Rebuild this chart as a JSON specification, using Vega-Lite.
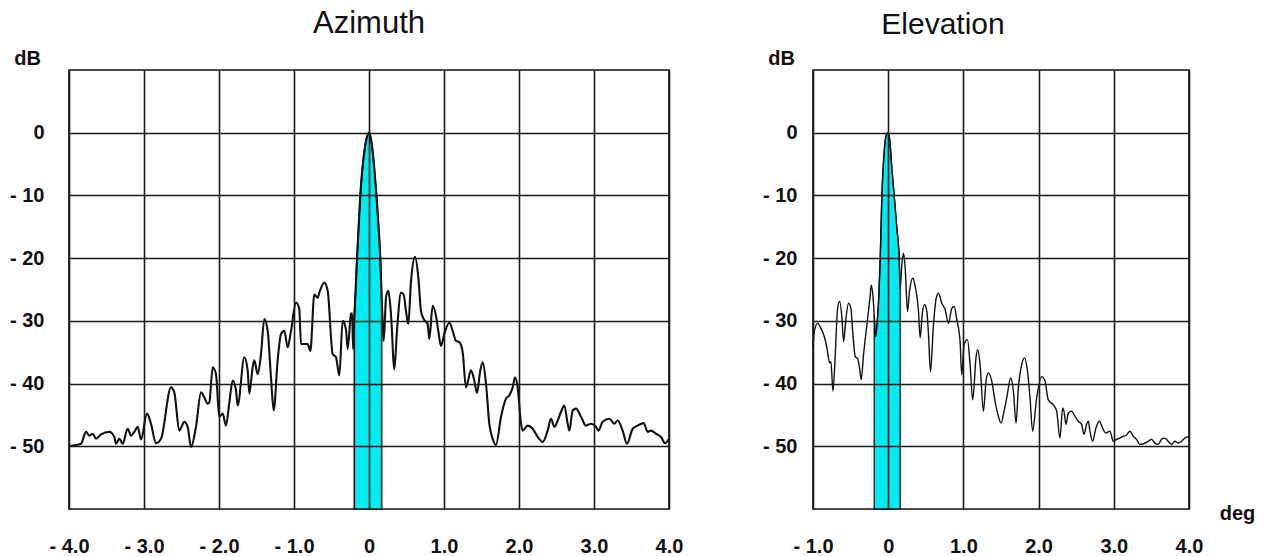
{
  "$schema": "https://vega.github.io/schema/vega-lite/v6.json",
  "background": "white",
  "padding": {"left": 8, "top": 7, "right": 8, "bottom": 4},
  "bounds": "flush",
  "spacing": 144,
  "config": {
    "font": "Liberation Sans",
    "view": {"stroke": "#111111", "strokeWidth": 1.6},
    "axis": {
      "grid": true,
      "gridColor": "#1a1a1a",
      "gridWidth": 1.6,
      "gridOpacity": 1,
      "domain": false,
      "ticks": false,
      "labelFont": "Liberation Sans",
      "labelFontSize": 20,
      "labelFontWeight": "bold",
      "labelColor": "#111111",
      "labelFlush": false,
      "labelOverlap": false
    },
    "title": {"font": "Liberation Sans", "fontSize": 30, "fontWeight": "normal", "color": "#111111"}
  },
  "datasets": {
    "az": [
      {"deg": -4.0, "db": -50.0}, {"deg": -3.907, "db": -49.8}, {"deg": -3.84, "db": -49.6}, {"deg": -3.773, "db": -47.7},
      {"deg": -3.729, "db": -48.3}, {"deg": -3.684, "db": -48.0}, {"deg": -3.64, "db": -48.8}, {"deg": -3.573, "db": -48.1},
      {"deg": -3.462, "db": -47.7}, {"deg": -3.396, "db": -48.5}, {"deg": -3.373, "db": -49.6}, {"deg": -3.329, "db": -48.8},
      {"deg": -3.284, "db": -49.6}, {"deg": -3.218, "db": -47.2}, {"deg": -3.173, "db": -48.3}, {"deg": -3.129, "db": -47.7},
      {"deg": -3.084, "db": -46.9}, {"deg": -3.04, "db": -48.9}, {"deg": -2.96, "db": -44.8}, {"deg": -2.907, "db": -46.4},
      {"deg": -2.84, "db": -49.5}, {"deg": -2.773, "db": -48.8}, {"deg": -2.64, "db": -40.6}, {"deg": -2.596, "db": -41.4},
      {"deg": -2.529, "db": -47.5}, {"deg": -2.462, "db": -46.1}, {"deg": -2.418, "db": -46.9}, {"deg": -2.373, "db": -50.1},
      {"deg": -2.307, "db": -46.9}, {"deg": -2.24, "db": -41.4}, {"deg": -2.196, "db": -42.2}, {"deg": -2.151, "db": -43.2},
      {"deg": -2.129, "db": -43.0}, {"deg": -2.084, "db": -37.4}, {"deg": -2.04, "db": -38.5}, {"deg": -1.996, "db": -45.3},
      {"deg": -1.951, "db": -44.8}, {"deg": -1.907, "db": -46.7}, {"deg": -1.862, "db": -43.0}, {"deg": -1.818, "db": -39.5},
      {"deg": -1.773, "db": -41.1}, {"deg": -1.751, "db": -43.5}, {"deg": -1.662, "db": -35.8}, {"deg": -1.618, "db": -37.9},
      {"deg": -1.596, "db": -41.6}, {"deg": -1.551, "db": -37.4}, {"deg": -1.529, "db": -36.3}, {"deg": -1.484, "db": -38.5},
      {"deg": -1.44, "db": -35.3}, {"deg": -1.396, "db": -29.7}, {"deg": -1.351, "db": -31.6}, {"deg": -1.307, "db": -39.0},
      {"deg": -1.271, "db": -44.3}, {"deg": -1.218, "db": -36.3}, {"deg": -1.173, "db": -32.1}, {"deg": -1.129, "db": -31.6},
      {"deg": -1.084, "db": -34.2}, {"deg": -1.04, "db": -31.6}, {"deg": -0.973, "db": -27.1}, {"deg": -0.929, "db": -28.1},
      {"deg": -0.907, "db": -33.7}, {"deg": -0.818, "db": -33.7}, {"deg": -0.782, "db": -34.8}, {"deg": -0.729, "db": -25.8},
      {"deg": -0.684, "db": -26.3}, {"deg": -0.662, "db": -25.5}, {"deg": -0.596, "db": -23.9}, {"deg": -0.551, "db": -25.2},
      {"deg": -0.484, "db": -35.3}, {"deg": -0.44, "db": -35.8}, {"deg": -0.396, "db": -38.7}, {"deg": -0.351, "db": -30.0},
      {"deg": -0.307, "db": -31.4}, {"deg": -0.284, "db": -34.5}, {"deg": -0.24, "db": -28.9}, {"deg": -0.225, "db": -28.8},
      {"deg": -0.212, "db": -34.5}, {"deg": -0.196, "db": -29.5}, {"deg": -0.178, "db": -25.0}, {"deg": -0.16, "db": -20.0},
      {"deg": -0.138, "db": -15.0}, {"deg": -0.116, "db": -10.0}, {"deg": -0.09, "db": -6.0}, {"deg": -0.062, "db": -3.0},
      {"deg": -0.03, "db": -0.8}, {"deg": 0.0, "db": 0.0}, {"deg": 0.025, "db": -0.9}, {"deg": 0.049, "db": -3.0},
      {"deg": 0.075, "db": -6.3}, {"deg": 0.102, "db": -10.4}, {"deg": 0.127, "db": -15.0}, {"deg": 0.151, "db": -20.0},
      {"deg": 0.169, "db": -26.5}, {"deg": 0.182, "db": -30.0}, {"deg": 0.196, "db": -33.2}, {"deg": 0.227, "db": -26.3},
      {"deg": 0.258, "db": -25.2}, {"deg": 0.293, "db": -28.9}, {"deg": 0.338, "db": -37.7}, {"deg": 0.373, "db": -31.6},
      {"deg": 0.427, "db": -25.5}, {"deg": 0.462, "db": -25.8}, {"deg": 0.493, "db": -28.4}, {"deg": 0.524, "db": -30.5},
      {"deg": 0.56, "db": -23.7}, {"deg": 0.613, "db": -19.8}, {"deg": 0.658, "db": -23.1}, {"deg": 0.693, "db": -28.4},
      {"deg": 0.729, "db": -29.7}, {"deg": 0.782, "db": -30.5}, {"deg": 0.804, "db": -32.9}, {"deg": 0.849, "db": -27.6},
      {"deg": 0.893, "db": -29.2}, {"deg": 0.924, "db": -31.6}, {"deg": 0.96, "db": -34.0}, {"deg": 1.004, "db": -32.1},
      {"deg": 1.071, "db": -30.3}, {"deg": 1.116, "db": -31.6}, {"deg": 1.16, "db": -33.2}, {"deg": 1.204, "db": -33.4},
      {"deg": 1.249, "db": -35.0}, {"deg": 1.293, "db": -40.6}, {"deg": 1.36, "db": -37.9}, {"deg": 1.404, "db": -39.5},
      {"deg": 1.44, "db": -41.5}, {"deg": 1.484, "db": -37.9}, {"deg": 1.516, "db": -36.6}, {"deg": 1.56, "db": -40.0},
      {"deg": 1.604, "db": -46.4}, {"deg": 1.649, "db": -48.8}, {"deg": 1.693, "db": -49.8}, {"deg": 1.76, "db": -45.3},
      {"deg": 1.827, "db": -42.4}, {"deg": 1.871, "db": -41.9}, {"deg": 1.916, "db": -40.6}, {"deg": 1.947, "db": -39.0},
      {"deg": 1.982, "db": -40.6}, {"deg": 2.027, "db": -46.4}, {"deg": 2.049, "db": -47.5}, {"deg": 2.116, "db": -46.7},
      {"deg": 2.182, "db": -47.2}, {"deg": 2.249, "db": -48.5}, {"deg": 2.316, "db": -49.3}, {"deg": 2.382, "db": -47.5},
      {"deg": 2.427, "db": -45.6}, {"deg": 2.471, "db": -46.9}, {"deg": 2.516, "db": -45.9}, {"deg": 2.56, "db": -44.5},
      {"deg": 2.604, "db": -43.5}, {"deg": 2.649, "db": -46.4}, {"deg": 2.671, "db": -47.5}, {"deg": 2.716, "db": -44.3},
      {"deg": 2.76, "db": -44.0}, {"deg": 2.827, "db": -45.3}, {"deg": 2.893, "db": -46.7}, {"deg": 2.96, "db": -46.4},
      {"deg": 3.027, "db": -46.9}, {"deg": 3.058, "db": -47.5}, {"deg": 3.116, "db": -46.1}, {"deg": 3.204, "db": -45.6},
      {"deg": 3.271, "db": -46.4}, {"deg": 3.316, "db": -45.9}, {"deg": 3.382, "db": -47.5}, {"deg": 3.44, "db": -49.6},
      {"deg": 3.516, "db": -47.2}, {"deg": 3.582, "db": -46.7}, {"deg": 3.662, "db": -46.3}, {"deg": 3.716, "db": -47.7},
      {"deg": 3.76, "db": -47.5}, {"deg": 3.827, "db": -48.0}, {"deg": 3.893, "db": -48.5}, {"deg": 3.947, "db": -49.5},
      {"deg": 4.0, "db": -48.8}
    ],
    "el": [
      {"deg": -1.0, "db": -34.3}, {"deg": -0.983, "db": -31.7}, {"deg": -0.939, "db": -30.4}, {"deg": -0.894, "db": -31.2},
      {"deg": -0.85, "db": -32.5}, {"deg": -0.815, "db": -34.3}, {"deg": -0.779, "db": -36.7}, {"deg": -0.761, "db": -36.5},
      {"deg": -0.735, "db": -41.2}, {"deg": -0.704, "db": -35.4}, {"deg": -0.673, "db": -28.0}, {"deg": -0.646, "db": -26.9},
      {"deg": -0.615, "db": -29.6}, {"deg": -0.593, "db": -33.3}, {"deg": -0.562, "db": -29.6}, {"deg": -0.527, "db": -27.2},
      {"deg": -0.496, "db": -28.0}, {"deg": -0.469, "db": -32.2}, {"deg": -0.438, "db": -35.7}, {"deg": -0.407, "db": -36.0},
      {"deg": -0.381, "db": -37.5}, {"deg": -0.359, "db": -39.4}, {"deg": -0.328, "db": -35.4}, {"deg": -0.283, "db": -30.6},
      {"deg": -0.239, "db": -25.9}, {"deg": -0.226, "db": -24.3}, {"deg": -0.204, "db": -25.9}, {"deg": -0.186, "db": -29.0},
      {"deg": -0.168, "db": -32.5}, {"deg": -0.145, "db": -30.0}, {"deg": -0.124, "db": -25.9}, {"deg": -0.106, "db": -20.0},
      {"deg": -0.084, "db": -10.1}, {"deg": -0.053, "db": -3.0}, {"deg": -0.027, "db": -0.4}, {"deg": 0.0, "db": 0.0},
      {"deg": 0.018, "db": -0.9}, {"deg": 0.049, "db": -5.7}, {"deg": 0.08, "db": -10.1}, {"deg": 0.115, "db": -15.2},
      {"deg": 0.146, "db": -20.0}, {"deg": 0.159, "db": -25.0}, {"deg": 0.181, "db": -21.1}, {"deg": 0.204, "db": -19.2},
      {"deg": 0.226, "db": -21.6}, {"deg": 0.257, "db": -28.5}, {"deg": 0.283, "db": -25.3}, {"deg": 0.328, "db": -23.2},
      {"deg": 0.359, "db": -24.5}, {"deg": 0.403, "db": -28.5}, {"deg": 0.425, "db": -32.7}, {"deg": 0.452, "db": -29.0},
      {"deg": 0.483, "db": -27.4}, {"deg": 0.514, "db": -28.5}, {"deg": 0.536, "db": -32.2}, {"deg": 0.562, "db": -38.1},
      {"deg": 0.602, "db": -30.6}, {"deg": 0.638, "db": -26.4}, {"deg": 0.669, "db": -25.6}, {"deg": 0.713, "db": -27.2},
      {"deg": 0.757, "db": -28.2}, {"deg": 0.801, "db": -30.4}, {"deg": 0.846, "db": -28.0}, {"deg": 0.877, "db": -27.7},
      {"deg": 0.912, "db": -29.8}, {"deg": 0.956, "db": -33.3}, {"deg": 0.978, "db": -38.6}, {"deg": 1.009, "db": -33.8},
      {"deg": 1.054, "db": -33.0}, {"deg": 1.089, "db": -37.0}, {"deg": 1.124, "db": -42.6}, {"deg": 1.169, "db": -35.7},
      {"deg": 1.191, "db": -34.6}, {"deg": 1.222, "db": -37.0}, {"deg": 1.266, "db": -44.4}, {"deg": 1.301, "db": -39.6},
      {"deg": 1.332, "db": -38.3}, {"deg": 1.377, "db": -39.6}, {"deg": 1.421, "db": -42.8}, {"deg": 1.465, "db": -45.2},
      {"deg": 1.501, "db": -46.3}, {"deg": 1.541, "db": -44.4}, {"deg": 1.576, "db": -42.3}, {"deg": 1.629, "db": -39.1},
      {"deg": 1.665, "db": -41.2}, {"deg": 1.7, "db": -46.3}, {"deg": 1.731, "db": -40.7}, {"deg": 1.775, "db": -37.0},
      {"deg": 1.811, "db": -35.9}, {"deg": 1.85, "db": -37.8}, {"deg": 1.886, "db": -42.3}, {"deg": 1.921, "db": -47.6},
      {"deg": 1.974, "db": -42.3}, {"deg": 2.041, "db": -38.9}, {"deg": 2.085, "db": -39.6}, {"deg": 2.129, "db": -42.6},
      {"deg": 2.196, "db": -43.4}, {"deg": 2.24, "db": -44.4}, {"deg": 2.284, "db": -48.7}, {"deg": 2.32, "db": -43.9},
      {"deg": 2.337, "db": -44.4}, {"deg": 2.364, "db": -46.5}, {"deg": 2.395, "db": -44.7}, {"deg": 2.439, "db": -44.4},
      {"deg": 2.483, "db": -45.2}, {"deg": 2.528, "db": -46.0}, {"deg": 2.572, "db": -46.5}, {"deg": 2.603, "db": -48.1},
      {"deg": 2.638, "db": -46.5}, {"deg": 2.661, "db": -46.0}, {"deg": 2.683, "db": -47.6}, {"deg": 2.718, "db": -49.2},
      {"deg": 2.762, "db": -47.1}, {"deg": 2.807, "db": -46.0}, {"deg": 2.851, "db": -47.1}, {"deg": 2.895, "db": -47.9},
      {"deg": 2.948, "db": -47.6}, {"deg": 2.993, "db": -49.2}, {"deg": 3.037, "db": -48.9}, {"deg": 3.081, "db": -48.7},
      {"deg": 3.126, "db": -48.4}, {"deg": 3.17, "db": -48.2}, {"deg": 3.214, "db": -47.6}, {"deg": 3.258, "db": -48.4},
      {"deg": 3.302, "db": -48.9}, {"deg": 3.347, "db": -49.7}, {"deg": 3.391, "db": -49.6}, {"deg": 3.457, "db": -49.2},
      {"deg": 3.502, "db": -48.9}, {"deg": 3.546, "db": -49.5}, {"deg": 3.59, "db": -49.7}, {"deg": 3.634, "db": -48.9},
      {"deg": 3.679, "db": -48.7}, {"deg": 3.723, "db": -49.2}, {"deg": 3.767, "db": -49.7}, {"deg": 3.811, "db": -49.2},
      {"deg": 3.856, "db": -49.5}, {"deg": 3.9, "db": -49.2}, {"deg": 3.944, "db": -48.7}, {"deg": 4.0, "db": -48.4}
    ]
  },
  "hconcat": [
    {
      "width": 600,
      "height": 439,
      "title": {"text": "Azimuth", "frame": "group", "anchor": "middle", "dy": -4, "fontSize": 31},
      "data": {"name": "az"},
      "encoding": {
        "x": {
          "field": "deg", "type": "quantitative",
          "scale": {"domain": [-4, 4], "nice": false, "zero": false},
          "axis": {
            "zindex": 1,
            "values": [-4, -3, -2, -1, 0, 1, 2, 3, 4],
            "labelExpr": "datum.value == 0 ? '0' : (datum.value < 0 ? '- ' + format(-datum.value, '.1f') : format(datum.value, '.1f'))",
            "labelPadding": 27,
            "title": null
          }
        },
        "y": {
          "field": "db", "type": "quantitative",
          "scale": {"domain": [-60, 10], "nice": false, "zero": false},
          "axis": {
            "zindex": 1,
            "values": [-50, -40, -30, -20, -10, 0],
            "labelExpr": "datum.value == 0 ? '0' : '- ' + format(-datum.value, 'd')",
            "labelPadding": 25,
            "title": "dB",
            "titleAngle": 0,
            "titleX": -42,
            "titleY": -12,
            "titleAlign": "center",
            "titleBaseline": "middle",
            "titleFontSize": 20,
            "titleFontWeight": "bold",
            "titleColor": "#111111"
          }
        }
      },
      "layer": [
        {
          "transform": [{"filter": "datum.deg >= -0.196 && datum.deg <= 0.169"}],
          "mark": {"type": "area", "interpolate": "monotone", "color": "#00ecf0", "stroke": "#111111", "strokeWidth": 1.6},
          "encoding": {"y2": {"datum": -60}}
        },
        {"mark": {"type": "line", "interpolate": "monotone", "color": "#111111", "strokeWidth": 2.1}}
      ]
    },
    {
      "width": 376,
      "height": 439,
      "title": {"text": "Elevation", "frame": "group", "anchor": "middle", "dx": -58, "dy": -4},
      "data": {"name": "el"},
      "encoding": {
        "x": {
          "field": "deg", "type": "quantitative",
          "scale": {"domain": [-1, 4], "nice": false, "zero": false},
          "axis": {
            "zindex": 1,
            "values": [-1, 0, 1, 2, 3, 4],
            "labelExpr": "datum.value == 0 ? '0' : (datum.value < 0 ? '- ' + format(-datum.value, '.1f') : format(datum.value, '.1f'))",
            "labelPadding": 27,
            "title": "deg",
            "titleAngle": 0,
            "titleX": 424,
            "titleY": 4,
            "titleAlign": "center",
            "titleBaseline": "middle",
            "titleFontSize": 20,
            "titleFontWeight": "bold",
            "titleColor": "#111111"
          }
        },
        "y": {
          "field": "db", "type": "quantitative",
          "scale": {"domain": [-60, 10], "nice": false, "zero": false},
          "axis": {
            "zindex": 1,
            "values": [-50, -40, -30, -20, -10, 0],
            "labelExpr": "datum.value == 0 ? '0' : '- ' + format(-datum.value, 'd')",
            "labelPadding": 16,
            "title": "dB",
            "titleAngle": 0,
            "titleX": -32,
            "titleY": -12,
            "titleAlign": "center",
            "titleBaseline": "middle",
            "titleFontSize": 20,
            "titleFontWeight": "bold",
            "titleColor": "#111111"
          }
        }
      },
      "layer": [
        {
          "transform": [{"filter": "datum.deg >= -0.186 && datum.deg <= 0.159"}],
          "mark": {"type": "area", "interpolate": "monotone", "color": "#00ecf0", "stroke": "#111111", "strokeWidth": 1.3},
          "encoding": {"y2": {"datum": -60}}
        },
        {"mark": {"type": "line", "interpolate": "monotone", "color": "#111111", "strokeWidth": 1.4}}
      ]
    }
  ]
}
